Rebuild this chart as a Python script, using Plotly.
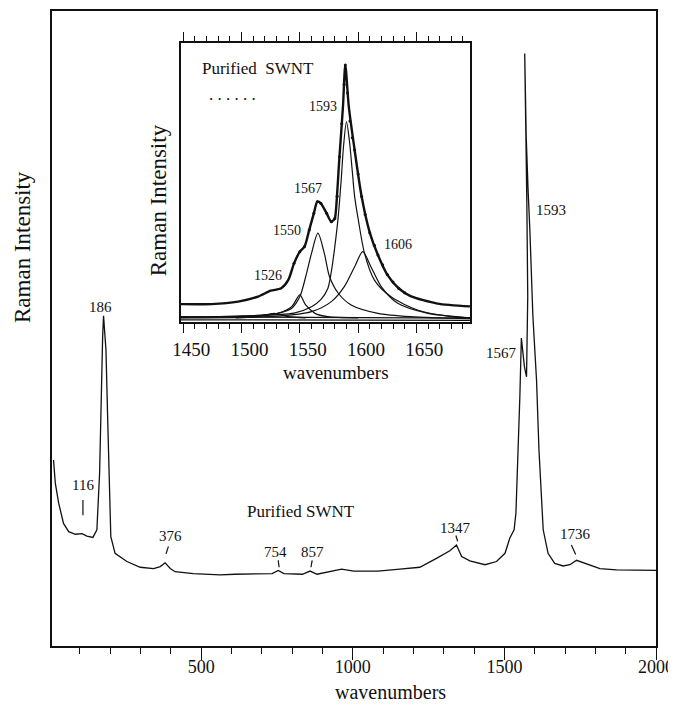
import plotly.graph_objects as go

# ---------------- main spectrum (wavenumber, relative intensity) ----------------
main_x = [13, 19, 30, 46, 63, 85, 107, 123, 143, 156, 165, 170, 175, 178, 182, 186, 192, 197, 202, 216,
          255, 299, 343, 365, 381, 398, 414, 474, 562, 612, 734, 754, 773, 834, 859, 882, 935, 963, 1003,
          1083, 1155, 1221, 1276, 1320, 1342, 1359, 1386, 1436, 1474, 1502, 1518, 1532, 1538, 1542, 1546,
          1551, 1556, 1560, 1566, 1573, 1577, 1574, 1569, 1567, 1572, 1578, 1584, 1594, 1606, 1614, 1620,
          1628, 1644, 1666, 1694, 1716, 1738, 1765, 1815, 1870, 2000]
main_y = [29.3, 25.6, 22.5, 19.3, 18.0, 17.6, 17.7, 17.3, 17.1, 18.3, 27.2, 40.3, 48.7, 52.0, 49.5, 46.6,
          35.1, 24.6, 17.2, 14.6, 13.3, 12.4, 12.2, 12.5, 13.1, 12.2, 11.7, 11.4, 11.2, 11.3, 11.4, 11.9,
          11.4, 11.3, 11.8, 11.3, 11.8, 12.1, 11.8, 11.8, 12.1, 12.4, 13.8, 15.0, 15.9, 14.1, 13.4, 12.8,
          13.3, 14.6, 17.0, 18.3, 20.9, 26.1, 30.9, 39.3, 48.5, 47.0, 44.0, 42.4, 55.0, 70.0, 85.0, 93.3,
          80.2, 72.0, 65.5, 51.9, 41.9, 30.9, 26.1, 18.3, 14.6, 13.0, 12.6, 12.8, 13.5, 13.0, 12.2, 12.0, 11.9]

main_tickvals = [500, 1000, 1500, 2000]
main_peak_labels = ["186", "116", "376", "754", "857", "1347", "1736", "1567", "1593"]

# ---------------- inset: fitted G band ----------------
comp_x = [1448, 1474, 1497, 1514, 1525, 1534, 1540, 1545, 1550, 1554, 1558, 1562, 1565, 1568, 1573, 1577,
          1580, 1581, 1584, 1587, 1589, 1592, 1597, 1603, 1610, 1617, 1625, 1635, 1645, 1668, 1696]
comp_y = [6.4, 6.4, 7.3, 9.1, 11.2, 12.1, 15.0, 21.0, 25.2, 27.0, 32.9, 38.9, 43.1, 42.5, 38.9, 35.9,
          37.1, 40.1, 59.2, 77.1, 92.0, 77.1, 61.6, 44.9, 32.0, 24.0, 17.0, 12.0, 9.3, 6.6, 5.6]

meas_x = [1545, 1550, 1554, 1558, 1562, 1565, 1568, 1573, 1577, 1580, 1582, 1584, 1586, 1588, 1589,
          1591, 1593, 1595, 1597, 1600, 1603, 1606, 1610, 1614, 1617, 1621, 1625, 1630, 1635, 1640]
meas_y = [21.0, 25.2, 27.0, 32.9, 38.9, 43.1, 42.5, 38.9, 35.9, 37.1, 45.0, 59.2, 71.0, 85.0, 92.0,
          82.0, 72.0, 66.0, 61.6, 53.0, 44.9, 38.5, 32.0, 27.5, 24.0, 20.5, 17.0, 14.3, 12.0, 10.5]

c1593_x = [1448, 1500, 1545, 1560, 1568, 1574, 1577, 1580, 1583, 1585.5, 1587.5, 1590, 1592.5, 1595,
           1597, 1600, 1605.5, 1614, 1628, 1651, 1680, 1696]
c1593_y = [1.6, 2.2, 3.2, 5.5, 8.0, 12.0, 18.0, 27.0, 38.0, 51.0, 63.0, 71.7, 65.0, 54.0, 45.0, 37.0,
           24.6, 15.0, 9.1, 4.3, 1.9, 1.4]

c1567_x = [1448, 1503, 1531, 1543, 1550, 1555, 1560, 1565.5, 1571, 1575.5, 1583, 1594, 1617, 1645, 1696]
c1567_y = [1.7, 2.1, 3.1, 4.9, 9.1, 16.2, 24.6, 31.8, 24.6, 16.2, 10.3, 6.1, 3.1, 1.9, 1.2]

c1606_x = [1448, 1531, 1560, 1577, 1588, 1597, 1604, 1611, 1620, 1634, 1660, 1691, 1696]
c1606_y = [1.5, 2.1, 3.7, 7.3, 12.6, 19.8, 25.2, 19.8, 12.6, 6.7, 3.1, 1.7, 1.6]

c1550_x = [1500, 1517, 1531, 1543, 1550, 1555, 1563, 1574, 1600]
c1550_y = [1.8, 2.3, 3.1, 5.5, 9.7, 6.1, 3.1, 1.9, 1.5]

c1526_x = [1495, 1510, 1517, 1528, 1540, 1555]
c1526_y = [1.5, 1.8, 2.2, 3.1, 1.9, 1.5]

base1_x = [1448, 1696]
base1_y = [1.9, 1.4]
base2_x = [1448, 1696]
base2_y = [0.8, 0.6]

inset_tickvals = [1450, 1500, 1550, 1600, 1650]
inset_peak_labels = ["1593", "1567", "1550", "1526", "1606"]

FONT = "Liberation Serif, Times New Roman, serif"
BLACK = "#111111"

fig = go.Figure()

fig.add_trace(go.Scatter(x=main_x, y=main_y, mode="lines",
                         line=dict(color=BLACK, width=1.3), xaxis="x", yaxis="y",
                         showlegend=False, hoverinfo="skip"))

for cx, cy in [(base1_x, base1_y), (base2_x, base2_y), (c1526_x, c1526_y), (c1550_x, c1550_y),
               (c1567_x, c1567_y), (c1593_x, c1593_y), (c1606_x, c1606_y)]:
    fig.add_trace(go.Scatter(x=cx, y=cy, mode="lines", line=dict(color=BLACK, width=1.2, shape="spline",
                             smoothing=0.8), xaxis="x2", yaxis="y2", showlegend=False, hoverinfo="skip"))

fig.add_trace(go.Scatter(x=comp_x, y=comp_y, mode="lines",
                         line=dict(color=BLACK, width=2.4, shape="spline", smoothing=0.7),
                         xaxis="x2", yaxis="y2", showlegend=False, hoverinfo="skip"))
fig.add_trace(go.Scatter(x=meas_x, y=meas_y, mode="markers",
                         marker=dict(color=BLACK, size=3), xaxis="x2", yaxis="y2",
                         showlegend=False, hoverinfo="skip"))

# ---------------- annotations ----------------
ann = []
main_pos = [(167, 53.4), (110, 25.4), (398, 17.4), (744, 14.8), (868, 14.8), (1340, 18.6), (1734, 17.7),
            (1490, 46.1), (1655, 68.7)]
for t, (x, y) in zip(main_peak_labels, main_pos):
    ann.append(dict(x=x, y=y, xref="x", yref="y", text=t, showarrow=False,
                    xanchor="center", yanchor="middle",
                    font=dict(family=FONT, size=15, color=BLACK)))
ann.append(dict(x=828, y=21.2, xref="x", yref="y", text="Purified SWNT", showarrow=False,
                xanchor="center", yanchor="middle",
                font=dict(family=FONT, size=17, color=BLACK)))

inset_pos = [(1570, 77.1), (1557, 47.9), (1539, 32.9), (1523, 16.8), (1634, 27.6)]
for t, (x, y) in zip(inset_peak_labels, inset_pos):
    ann.append(dict(x=x, y=y, xref="x2", yref="y2", text=t, showarrow=False,
                    xanchor="center", yanchor="middle",
                    font=dict(family=FONT, size=14, color=BLACK)))
ann.append(dict(x=1514, y=90.8, xref="x2", yref="y2", text="Purified&nbsp;&nbsp;SWNT", showarrow=False,
                xanchor="center", yanchor="middle",
                font=dict(family=FONT, size=17, color=BLACK)))
ann.append(dict(x=1492, y=81.5, xref="x2", yref="y2", text=". . . . . .", showarrow=False,
                xanchor="center", yanchor="middle",
                font=dict(family=FONT, size=17, color=BLACK)))

# axis titles
ann.append(dict(x=-0.050, y=0.628, xref="paper", yref="paper", text="Raman Intensity", textangle=-90,
                xanchor="center", yanchor="middle",
                showarrow=False, font=dict(family=FONT, size=23, color=BLACK)))
ann.append(dict(x=0.561, y=-0.072, xref="paper", yref="paper", text="wavenumbers",
                xanchor="center", yanchor="middle",
                showarrow=False, font=dict(family=FONT, size=20, color=BLACK)))
ann.append(dict(x=0.1755, y=0.702, xref="paper", yref="paper", text="Raman Intensity", textangle=-90,
                xanchor="center", yanchor="middle",
                showarrow=False, font=dict(family=FONT, size=23, color=BLACK)))
ann.append(dict(x=0.470, y=0.430, xref="paper", yref="paper", text="wavenumbers",
                xanchor="center", yanchor="middle",
                showarrow=False, font=dict(family=FONT, size=19, color=BLACK)))

# leader ticks for the main peak labels
leaders = [((110, 23.0), (110, 20.6)), ((392, 15.7), (384, 14.5)), ((754, 13.5), (757, 12.4)),
           ((866, 13.5), (862, 12.4)), ((1340, 17.4), (1346, 16.5)), ((1721, 15.9), (1735, 14.4))]
shapes = []
for (x0, y0), (x1, y1) in leaders:
    shapes.append(dict(type="line", xref="x", yref="y", x0=x0, y0=y0, x1=x1, y1=y1,
                       line=dict(color=BLACK, width=1.2)))

fig.update_layout(
    template="none",
    width=676, height=706,
    margin=dict(l=44, r=28, t=3, b=68, autoexpand=False),
    paper_bgcolor="white", plot_bgcolor="white",
    annotations=ann, shapes=shapes,
    xaxis=dict(range=[8, 2000], domain=[0, 1], showgrid=False, zeroline=False, automargin=False,
               showline=True, linecolor=BLACK, linewidth=1.6, mirror=True,
               tickmode="array", tickvals=main_tickvals, ticks="outside", ticklen=12,
               tickwidth=1.4, tickcolor=BLACK, ticklabelstandoff=-8,
               tickfont=dict(family=FONT, size=18, color=BLACK),
               minor=dict(dtick=100, tick0=0, ticks="outside", ticklen=6, tickwidth=1.2,
                          tickcolor=BLACK, showgrid=False)),
    yaxis=dict(range=[0, 100], domain=[0, 1], showgrid=False, zeroline=False, automargin=False,
               showline=True, linecolor=BLACK, linewidth=1.6, mirror=True,
               showticklabels=False, ticks=""),
    xaxis2=dict(range=[1448, 1696], domain=[0.2136, 0.692], anchor="y2", showgrid=False,
                zeroline=False, showline=True, linecolor=BLACK, linewidth=1.5, mirror="allticks",
                automargin=False,
                tickmode="array", tickvals=inset_tickvals, ticks="outside", ticklen=9,
                tickwidth=1.3, tickcolor=BLACK, ticklabelshift=8,
                tickfont=dict(family=FONT, size=19, color=BLACK),
                minor=dict(dtick=10, tick0=1450, ticks="outside", ticklen=5, tickwidth=1.1,
                           tickcolor=BLACK, showgrid=False)),
    yaxis2=dict(range=[0, 100], domain=[0.5102, 0.9501], anchor="x2", showgrid=False,
                zeroline=False, showline=True, linecolor=BLACK, linewidth=1.5, mirror=True,
                automargin=False, showticklabels=False, ticks=""),
)

fig.write_html("out.html")
